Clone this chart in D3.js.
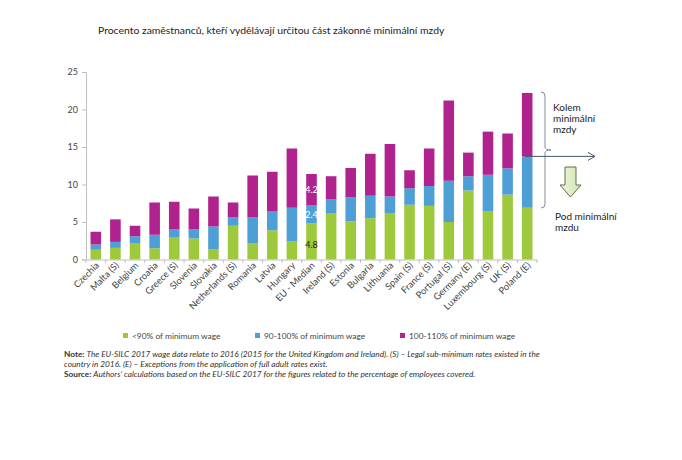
<!DOCTYPE html>
<html><head><meta charset="utf-8">
<script src="https://cdn.jsdelivr.net/npm/d3@7"></script>
<style>body{margin:0;background:#fff}svg{display:block}text{font-family:Lato,"Open Sans",sans-serif}</style>
</head><body>
<script>
const categories = ["Czechia","Malta (S)","Belgium","Croatia","Greece (S)","Slovenia","Slovakia","Netherlands (S)","Romania","Latvia","Hungary","EU - Median","Ireland (S)","Estonia","Bulgaria","Lithuania","Spain (S)","France (S)","Portugal (S)","Germany (E)","Luxembourg (S)","UK (S)","Poland (E)"];
const below90 = [1.3,1.55,2.2,1.5,3.0,2.8,1.4,4.5,2.2,3.9,2.4,4.8,6.2,5.1,5.5,6.2,7.3,7.15,5.0,9.2,6.45,8.65,6.9];
const from90to100 = [0.7,0.8,0.9,1.8,1.0,1.2,3.0,1.1,3.4,2.5,4.5,2.4,1.8,3.2,3.0,2.2,2.2,2.65,5.5,1.9,4.85,3.5,6.85];
const from100to110 = [1.7,3.0,1.4,4.3,3.7,2.8,4.0,2.0,5.6,5.3,7.9,4.2,3.1,3.9,5.6,7.0,2.4,5.0,10.7,3.15,5.75,4.65,8.45];
const yTicks = [0,5,10,15,20,25];
const seriesNames = ["<90% of minimum wage","90-100% of minimum wage","100-110% of minimum wage"];
const colors = ["#9fc93c","#4e9fd6","#b0228d"];

const W=682,H=460;
const svg=d3.select("body").append("svg").attr("width",W).attr("height",H);
const x=d3.scaleBand().domain(categories).range([86,537]).paddingInner(0.46).paddingOuter(0.23);
const y=d3.scaleLinear().domain([0,25]).range([259.5,72]);

svg.append("text").attr("x",98).attr("y",34).attr("font-size",10.4).attr("fill","#222")
  .text("Procento zaměstnanců, kteří vydělávají určitou část zákonné minimální mzdy");

// y axis
const ya=svg.append("g").attr("transform","translate(86,0)").call(d3.axisLeft(y).tickValues(yTicks).tickSize(4).tickPadding(4));
ya.select(".domain").attr("stroke","#bfbfbf");
ya.selectAll(".tick line").attr("stroke","#bfbfbf");
ya.selectAll("text").attr("font-size",9).attr("fill","#444").attr("font-family","Lato,sans-serif");

// stacked
const rows=categories.map((c,i)=>({cat:c,a:below90[i],b:from90to100[i],c:from100to110[i]}));
const stack=d3.stack().keys(["a","b","c"])(rows);
svg.append("g").selectAll("g").data(stack).join("g").attr("fill",(d,i)=>colors[i])
  .selectAll("rect").data(d=>d).join("rect")
  .attr("x",d=>x(d.data.cat)).attr("width",x.bandwidth())
  .attr("y",d=>y(d[1])).attr("height",d=>y(d[0])-y(d[1]));

// x axis
const xa=svg.append("g").attr("transform","translate(0,259.5)").call(d3.axisBottom(x).tickSize(0).tickFormat(""));
xa.select(".domain").attr("stroke","#bfbfbf");
svg.append("g").selectAll("line").data(d3.range(categories.length+1)).join("line")
  .attr("x1",i=>86+i*x.step()).attr("x2",i=>86+i*x.step())
  .attr("y1",259.5).attr("y2",263).attr("stroke","#bfbfbf");
svg.append("g").selectAll("text").data(categories).join("text")
  .attr("transform",d=>`translate(${x(d)+x.bandwidth()/2+4},266) rotate(-45)`)
  .attr("text-anchor","end").attr("font-size",9.3).attr("fill","#444").text(d=>d);

// EU median labels
const mi=categories.indexOf("EU - Median");
const mc=x(categories[mi])+x.bandwidth()/2;
const labs=[{v:below90[mi],y0:0,col:"#1a1a1a"},{v:from90to100[mi],y0:below90[mi],col:"#ffffff"},{v:from100to110[mi],y0:below90[mi]+from90to100[mi],col:"#ffffff"}];
svg.append("g").selectAll("text").data(labs).join("text")
  .attr("x",mc).attr("y",d=>y(d.y0+ (d.col==="#1a1a1a"? d.v*0.4 : d.v/2))+3)
  .attr("text-anchor","middle").attr("font-size",9).attr("fill",d=>d.col).text(d=>d.v.toFixed(1));

// annotations
const ann=svg.append("g");
ann.append("path").attr("d","M541,92 Q545,92 545,96 L545,147 Q545,150 551,150 Q545,150 545,153 L545,204 Q545,208 541,208")
  .attr("fill","none").attr("stroke","#7f8c99").attr("stroke-width",1);
const pi=categories.length-1;
const ay=y(below90[pi]+from90to100[pi]);
ann.append("line").attr("x1",x(categories[pi])+3).attr("x2",595).attr("y1",ay).attr("y2",ay).attr("stroke","#44546a").attr("stroke-width",1);
ann.append("path").attr("d",`M588,${ay-4} L595,${ay} L588,${ay+4}`).attr("fill","none").attr("stroke","#44546a").attr("stroke-width",1);
const grad=svg.append("defs").append("linearGradient").attr("id","ag").attr("x1",0).attr("x2",1).attr("y1",0).attr("y2",0);
grad.append("stop").attr("offset",0).attr("stop-color","#eef5dc");
grad.append("stop").attr("offset",1).attr("stop-color","#d3e4b0");
ann.append("path").attr("d","M565,167 L576,167 L576,185 L581,185 L570.5,197 L560,185 L565,185 Z")
  .attr("fill","url(#ag)").attr("stroke","#5d6e4a").attr("stroke-width",1);
const at=ann.append("g").attr("font-size",10).attr("fill","#222");
[["Kolem",111],["minimální",122],["mzdy",133]].forEach(([t,yy])=>at.append("text").attr("x",553).attr("y",yy).text(t));
[["Pod minimální",220],["mzdu",231]].forEach(([t,yy])=>at.append("text").attr("x",555).attr("y",yy).text(t));

// legend
const lx=[123,255,400];
const lg=svg.append("g").selectAll("g").data(seriesNames).join("g").attr("transform",(d,i)=>`translate(${lx[i]},338)`);
lg.append("rect").attr("x",0).attr("y",-5).attr("width",5).attr("height",5).attr("fill",(d,i)=>colors[i]);
lg.append("text").attr("x",9).attr("y",1).attr("font-size",8.4).attr("fill","#444").text(d=>d);

// notes
const nt=svg.append("g").attr("font-size",8.25).attr("fill","#333");
const l1=nt.append("text").attr("x",64).attr("y",357);
l1.append("tspan").attr("font-weight","bold").text("Note: ");
l1.append("tspan").attr("font-style","italic").text(" The EU-SILC 2017 wage data relate to 2016 (2015 for the United Kingdom and Ireland). (S) – Legal sub-minimum rates existed in the");
nt.append("text").attr("x",64).attr("y",367).attr("font-style","italic").text("country in 2016. (E) – Exceptions from the application of full adult rates exist.");
const l3=nt.append("text").attr("x",64).attr("y",377);
l3.append("tspan").attr("font-weight","bold").text("Source: ");
l3.append("tspan").attr("font-style","italic").text("Authors’ calculations based on the EU-SILC 2017 for the figures related to the percentage of employees covered.");
</script>
</body></html>
